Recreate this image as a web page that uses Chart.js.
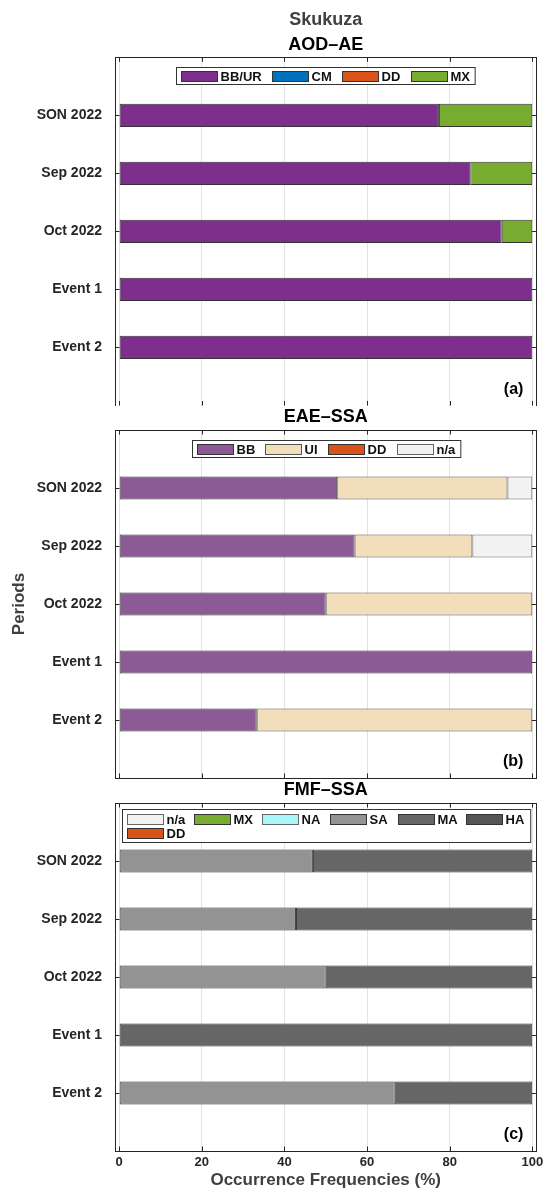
<!DOCTYPE html>
<html>
<head>
<meta charset="utf-8">
<title>Skukuza - occurrence frequencies</title>
<script src="https://cdn.jsdelivr.net/npm/chart.js@4.4.1/dist/chart.umd.min.js"></script>
<style>
  html, body { margin: 0; padding: 0; background: #fff; }
  #wrap { position: relative; width: 544px; height: 1194px; }
  .panel { position: absolute; left: 0; width: 544px; }
</style>
</head>
<body>
<div id="wrap">
  <div class="panel" style="top:0;height:406px"><canvas id="chartA"></canvas></div>
  <div class="panel" style="top:406px;height:374px"><canvas id="chartB"></canvas></div>
  <div class="panel" style="top:780px;height:414px"><canvas id="chartC"></canvas></div>
</div>
<script>
// --- data ---
const periods = ['SON 2022', 'Sep 2022', 'Oct 2022', 'Event 1', 'Event 2'];
const xTicks = [0, 20, 40, 60, 80, 100];

// (a) AOD-AE
const aodLabels = ['BB/UR', 'CM', 'DD', 'MX'];
const aodBBUR = [77.4, 85.0, 92.6, 100, 100];
const aodCM   = [0, 0, 0, 0, 0];
const aodDD   = [0, 0, 0, 0, 0];
const aodMX   = [22.6, 15.0, 7.4, 0, 0];

// (b) EAE-SSA
const eaeLabels = ['BB', 'UI', 'DD', 'n/a'];
const eaeBB = [52.8, 57.0, 50, 100, 33.3];
const eaeUI = [41.2, 28.5, 50, 0, 66.7];
const eaeDD = [0, 0, 0, 0, 0];
const eaeNA = [6.0, 14.5, 0, 0, 0];

// (c) FMF-SSA
const fmfLabels = ['n/a', 'MX', 'NA', 'SA', 'MA', 'HA', 'DD'];
const fmfNoData = [0, 0, 0, 0, 0];
const fmfMX = [0, 0, 0, 0, 0];
const fmfNA = [0, 0, 0, 0, 0];
const fmfSA = [46.9, 42.8, 50, 0, 66.7];
const fmfMA = [53.1, 57.2, 50, 100, 33.3];
const fmfHA = [0, 0, 0, 0, 0];
const fmfDD = [0, 0, 0, 0, 0];

const FONT = '"Liberation Sans", Arial, Helvetica, sans-serif';
Chart.defaults.font.family = FONT;

// --- helpers ---
function makeSet(label, values, fill, edge) {
    return {
        label: label,
        data: values.map((v, i) => ({ x: v, y: i + 1 })),
        backgroundColor: fill,
        borderColor: edge || '#333333',
        borderWidth: 1,
        borderSkipped: false,
        barPercentage: 0.4,
        categoryPercentage: 1
    };
}

// scale paddings for edge labels would shrink the plot box, so drop them
function noEdgePadding(s) {
    s.paddingTop = 0; s.paddingBottom = 0; s.paddingLeft = 0; s.paddingRight = 0;
}

function drawLegend(chart, lg) {
    const { ctx, chartArea: a } = chart;
    const sets = chart.data.datasets;
    const sw = 36, sh = 10, tg = 3, padL = 4, padR = 6;
    ctx.font = 'bold 13px ' + FONT;
    const items = sets.map(d => ({ d: d, w: sw + tg + ctx.measureText(d.label).width }));
    const cols = lg.cols || items.length;
    const rows = Math.ceil(items.length / cols);
    const xs = [];
    let width;
    if (lg.colWidth) {
        const maxW = Math.max(...items.map(it => it.w));
        width = (cols - 1) * lg.colWidth + maxW;
        items.forEach((it, i) => xs.push((i % cols) * lg.colWidth));
    } else {
        let cx = 0;
        items.forEach(it => { xs.push(cx); cx += it.w + lg.gap; });
        width = cx - lg.gap;
    }
    const fw = width + padL + padR;
    const fh = lg.padY * 2 + sh + (rows - 1) * lg.rowStep;
    const fx = Math.round((a.left + a.right) / 2 - fw / 2) + 0.5;
    const fy = Math.round(a.top + lg.offset) + 0.5;

    ctx.fillStyle = '#ffffff';
    ctx.fillRect(fx, fy, fw, fh);
    ctx.strokeStyle = '#333333';
    ctx.lineWidth = 1;
    ctx.strokeRect(fx, fy, fw, fh);

    ctx.textAlign = 'left';
    ctx.textBaseline = 'middle';
    items.forEach((it, i) => {
        const r = Math.floor(i / cols);
        const sx = Math.round(fx + padL + xs[i]) + 0.5;
        const sy = Math.round(fy + lg.padY + r * lg.rowStep) + 0.5;
        ctx.fillStyle = it.d.backgroundColor;
        ctx.fillRect(sx, sy, sw, sh);
        ctx.strokeStyle = it.d.borderColor;
        ctx.strokeRect(sx, sy, sw, sh);
        ctx.fillStyle = '#111111';
        ctx.fillText(it.d.label, sx + sw + tg, sy + sh / 2 + 0.5);
    });
}

// box, inward ticks, legend and panel tag
const panelDeco = {
    id: 'panelDeco',
    afterDatasetsDraw(chart, args, opts) {
        const { ctx, chartArea: a, scales } = chart;
        const x = scales.x, y = scales.y;
        ctx.save();
        ctx.strokeStyle = '#262626';
        ctx.lineWidth = 1;
        ctx.beginPath();
        x.ticks.forEach(t => {
            const px = Math.round(x.getPixelForValue(t.value)) + 0.5;
            ctx.moveTo(px, a.top); ctx.lineTo(px, a.top + 4.5);
            ctx.moveTo(px, a.bottom); ctx.lineTo(px, a.bottom - 4.5);
        });
        y.ticks.forEach(t => {
            const py = Math.round(y.getPixelForValue(t.value)) + 0.5;
            ctx.moveTo(a.left, py); ctx.lineTo(a.left + 4.5, py);
            ctx.moveTo(a.right, py); ctx.lineTo(a.right - 4.5, py);
        });
        ctx.stroke();
        ctx.strokeRect(Math.round(a.left) + 0.5, Math.round(a.top) + 0.5,
            Math.round(a.right) - Math.round(a.left), Math.round(a.bottom) - Math.round(a.top));

        drawLegend(chart, opts.legend);

        ctx.font = 'bold 16px ' + FONT;
        ctx.fillStyle = '#000000';
        ctx.textAlign = 'right';
        ctx.textBaseline = 'middle';
        ctx.fillText(opts.tag, a.right - 13, a.bottom - 16);
        ctx.restore();
    }
};

function makePanel(id, datasets, o) {
    return new Chart(document.getElementById(id), {
        type: 'bar',
        data: { datasets: datasets },
        options: {
            indexAxis: 'y',
            responsive: true,
            maintainAspectRatio: false,
            animation: false,
            devicePixelRatio: 1,
            layout: { padding: { top: 0, right: 7.6, bottom: o.padBottom, left: 0 } },
            plugins: {
                legend: { display: false },
                tooltip: { enabled: false },
                title: {
                    display: true, text: o.title, fullSize: false,
                    color: o.titleColor || '#000000',
                    font: { size: 18, weight: 'bold', lineHeight: 1.1 },
                    padding: o.titlePad
                },
                subtitle: {
                    display: !!o.subtitle, text: o.subtitle || '', fullSize: false,
                    color: '#000000',
                    font: { size: 18, weight: 'bold', lineHeight: 1.1 },
                    padding: o.subtitlePad || 0
                },
                panelDeco: { legend: o.legend, tag: o.tag }
            },
            scales: {
                x: {
                    type: 'linear', min: -1, max: 101, stacked: true,
                    afterBuildTicks: s => { s.ticks = xTicks.map(v => ({ value: v })); },
                    afterFit: s => { s.height = o.xHeight; noEdgePadding(s); },
                    grid: { color: '#e3e3e3', lineWidth: 1, drawTicks: false },
                    border: { display: false },
                    ticks: {
                        display: !!o.xTitle, color: '#262626', padding: 3.5,
                        font: { size: 13, weight: 'bold' }
                    },
                    title: {
                        display: !!o.xTitle, text: o.xTitle || '', color: '#404040',
                        font: { size: 17, weight: 'bold' },
                        padding: { top: 0, bottom: 3.8 }
                    }
                },
                y: {
                    type: 'linear', min: 0, max: 6, reverse: true, stacked: true, offset: false,
                    afterBuildTicks: s => { s.ticks = periods.map((p, i) => ({ value: i + 1 })); },
                    afterFit: s => { s.width = 115; noEdgePadding(s); },
                    grid: { display: false, drawTicks: false },
                    border: { display: false },
                    ticks: {
                        color: '#262626', padding: 13,
                        font: { size: 14, weight: 'bold' },
                        callback: v => periods[v - 1]
                    },
                    title: {
                        display: !!o.yTitle, text: o.yTitle || '', color: '#404040',
                        font: { size: 17, weight: 'bold' },
                        padding: { top: 8.8, bottom: 0 }
                    }
                }
            }
        },
        plugins: [panelDeco]
    });
}

// --- (a) AOD-AE ---
const aodColors = ['#7E2F8E', '#0072BD', '#D95319', '#77AC30'];
makePanel('chartA', [
    makeSet(aodLabels[0], aodBBUR, aodColors[0]),
    makeSet(aodLabels[1], aodCM, aodColors[1]),
    makeSet(aodLabels[2], aodDD, aodColors[2]),
    makeSet(aodLabels[3], aodMX, aodColors[3])
], {
    title: 'Skukuza', titleColor: '#404040', titlePad: { top: 10.1, bottom: 0 },
    subtitle: 'AOD\u2013AE', subtitlePad: { top: 5.2, bottom: 2.4 },
    padBottom: 0.5, xHeight: 0, tag: '(a)',
    legend: { gap: 11, padY: 3.5, rowStep: 14, offset: 9.7 }
});

// --- (b) EAE-SSA ---
const eaeColors = ['#8C5B95', '#F2DEBA', '#D95319', '#F2F2F2'];
makePanel('chartB', [
    makeSet(eaeLabels[0], eaeBB, eaeColors[0]),
    makeSet(eaeLabels[1], eaeUI, eaeColors[1], '#555555'),
    makeSet(eaeLabels[2], eaeDD, eaeColors[2]),
    makeSet(eaeLabels[3], eaeNA, eaeColors[3], '#666666')
], {
    title: 'EAE\u2013SSA', titlePad: { top: 1.1, bottom: 3.1 },
    padBottom: 2, xHeight: 0, tag: '(b)', yTitle: 'Periods',
    legend: { gap: 11, padY: 3.5, rowStep: 14, offset: 10 }
});

// --- (c) FMF-SSA ---
const fmfColors = ['#F2F2F2', '#77AC30', '#A8F8FA', '#939393', '#666666', '#555555', '#D95319'];
makePanel('chartC', [
    makeSet(fmfLabels[0], fmfNoData, fmfColors[0], '#666666'),
    makeSet(fmfLabels[1], fmfMX, fmfColors[1]),
    makeSet(fmfLabels[2], fmfNA, fmfColors[2], '#666666'),
    makeSet(fmfLabels[3], fmfSA, fmfColors[3]),
    makeSet(fmfLabels[4], fmfMA, fmfColors[4]),
    makeSet(fmfLabels[5], fmfHA, fmfColors[5]),
    makeSet(fmfLabels[6], fmfDD, fmfColors[6])
], {
    title: 'FMF\u2013SSA', titlePad: { top: 0, bottom: 3.2 },
    padBottom: 0, xHeight: 43, tag: '(c)',
    xTitle: 'Occurrence Frequencies (%)',
    legend: { cols: 6, colWidth: 67.8, padY: 4.5, rowStep: 14, offset: 6 }
});
</script>
</body>
</html>
